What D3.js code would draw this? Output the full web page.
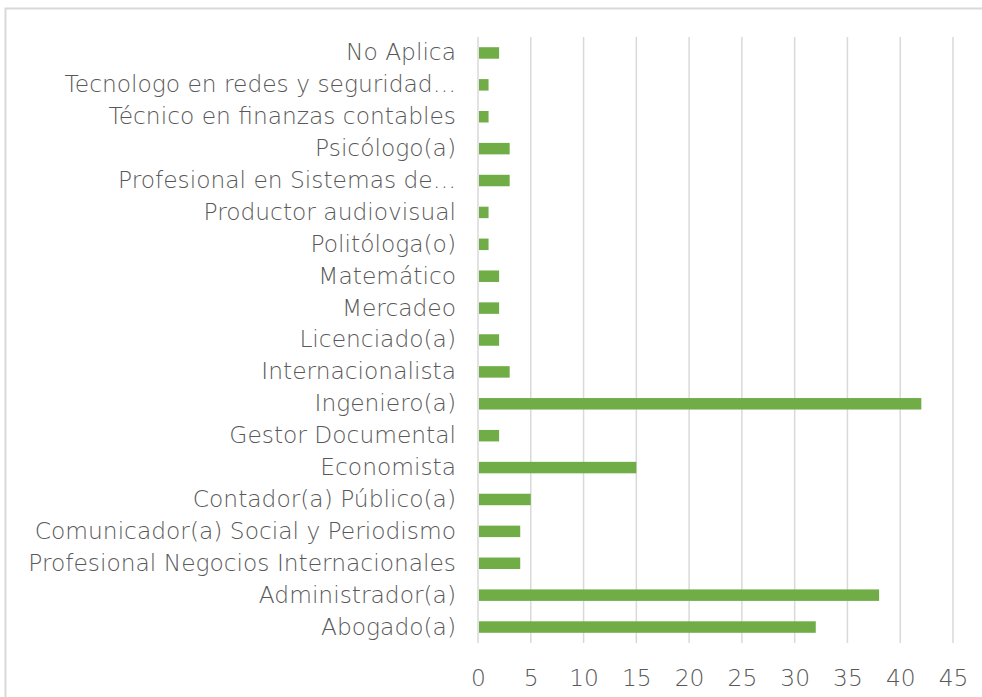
<!DOCTYPE html>
<html>
<head>
<meta charset="utf-8">
<script src="https://cdn.jsdelivr.net/npm/d3@7"></script>
<style>
  body { margin: 0; background: #fff; }
  text { font-family: "DejaVu Sans", "Noto Sans", sans-serif; font-weight: 200; fill: #595959; }
</style>
</head>
<body>
<svg class="chart"></svg>
<script>
// categories listed bottom to top, as in the picture
var categories = [
  "Abogado(a)",
  "Administrador(a)",
  "Profesional Negocios Internacionales",
  "Comunicador(a) Social y Periodismo",
  "Contador(a) Público(a)",
  "Economista",
  "Gestor Documental",
  "Ingeniero(a)",
  "Internacionalista",
  "Licenciado(a)",
  "Mercadeo",
  "Matemático",
  "Politóloga(o)",
  "Productor audiovisual",
  "Profesional en Sistemas de…",
  "Psicólogo(a)",
  "Técnico en finanzas contables",
  "Tecnologo en redes y seguridad…",
  "No Aplica"
];
var values = [32, 38, 4, 4, 5, 15, 2, 42, 3, 2, 2, 2, 1, 1, 3, 3, 1, 1, 2];
var xTicks = [0, 5, 10, 15, 20, 25, 30, 35, 40, 45];

var W = 982, H = 697;
var m = { top: 37, right: 29, bottom: 54, left: 478 };

var svg = d3.select(".chart")
  .attr("width", W)
  .attr("height", H);

// outer chart border (runs off the right / bottom edge)
svg.append("rect")
  .attr("x", 5.5).attr("y", 8.5)
  .attr("width", W + 10).attr("height", H + 10)
  .attr("fill", "none")
  .attr("stroke", "#d9d9d9")
  .attr("stroke-width", 2);

var x = d3.scaleLinear().domain([0, 45]).range([m.left, W - m.right]);
var y = d3.scaleBand()
  .domain(categories.slice().reverse())
  .range([m.top, H - m.bottom])
  .paddingInner(0.64)
  .paddingOuter(0.32);

// gridlines
svg.append("g")
  .selectAll("line")
  .data(xTicks)
  .enter().append("line")
  .attr("x1", function(d) { return x(d) })
  .attr("x2", function(d) { return x(d) })
  .attr("y1", m.top)
  .attr("y2", H - m.bottom)
  .attr("stroke", "#d9d9d9")
  .attr("stroke-width", 1.5);

// bars
svg.append("g")
  .selectAll("rect")
  .data(categories)
  .enter().append("rect")
  .attr("x", x(0) + 1)
  .attr("y", function(d) { return y(d) })
  .attr("width", function(d, i) { return x(values[i]) - x(0) - 1 })
  .attr("height", y.bandwidth())
  .attr("fill", "#70ad47");

// category labels
var yAxis = svg.append("g")
  .attr("transform", "translate(" + m.left + ",0)")
  .call(d3.axisLeft(y).tickSize(0).tickPadding(22));
yAxis.select(".domain").remove();
yAxis.selectAll("text").style("font-size", "20px");

// fit the font so the longest label spans about as wide as in the original
var longest = yAxis.selectAll("text").filter(function(d) { return d == "Profesional Negocios Internacionales" }).node();
var fs = 20 * 428 / longest.getComputedTextLength();
yAxis.selectAll("text").style("font-size", fs + "px");

// value axis labels
var xAxis = svg.append("g")
  .attr("transform", "translate(0," + (H - m.bottom) + ")")
  .call(d3.axisBottom(x).tickValues(xTicks).tickSize(0).tickPadding(26));
xAxis.select(".domain").remove();
xAxis.selectAll("text").style("font-size", fs + "px");
</script>
</body>
</html>
